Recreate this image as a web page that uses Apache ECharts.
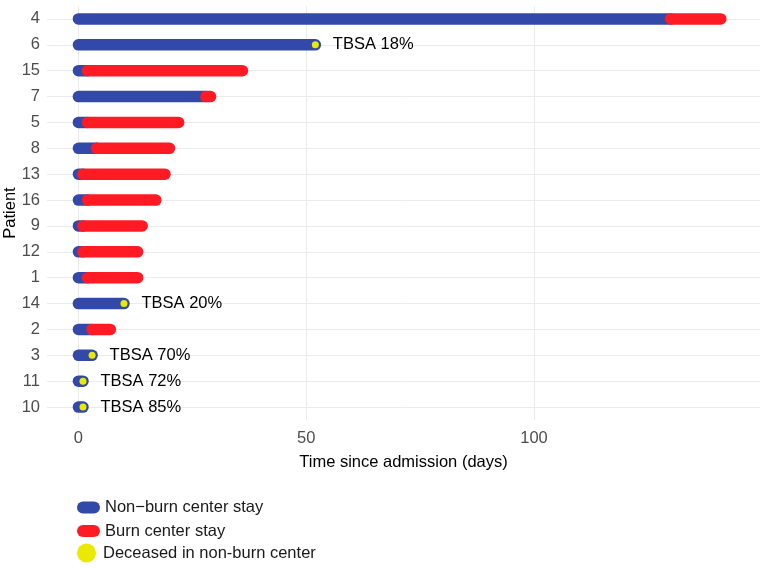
<!DOCTYPE html>
<html>
<head>
<meta charset="utf-8">
<script src="https://cdn.jsdelivr.net/npm/echarts@6/dist/echarts.min.js"></script>
<style>
  html, body { margin: 0; padding: 0; background: #fff; }
  #chart { width: 767px; height: 569px; }
</style>
</head>
<body>
<div id="chart"></div>
<script>
// patients, top to bottom
var patients = ['4', '6', '15', '7', '5', '8', '13', '16', '9', '12', '1', '14', '2', '3', '11', '10'];
// days spent in a non-burn center (from admission)
var nonBurnEnd = [130, 52, 2, 28, 2, 4, 1, 2, 1, 1, 2, 10, 3, 3, 1, 1];
// day of discharge from burn center (null = never transferred)
var burnEnd = [141, null, 36, 29, 22, 20, 19, 17, 14, 13, 13, null, 7, null, null, null];
// deceased in non-burn center: patient, day, TBSA label
var deadPatients = ['6', '14', '3', '11', '10'];
var deadDays = [52, 10, 3, 1, 1];
var deadTbsa = ['TBSA 18%', 'TBSA 20%', 'TBSA 70%', 'TBSA 72%', 'TBSA 85%'];
var xTicks = [0, 50, 100];

var blue = '#3349aa', red = '#ff1a24', yellow = '#eaea00';

var nonBurnData = patients.map(function (p, i) { return [0, nonBurnEnd[i], p]; });
var burnData = [];
patients.forEach(function (p, i) {
  if (burnEnd[i] != null) burnData.push([nonBurnEnd[i], burnEnd[i], p]);
});
var deadData = deadPatients.map(function (p, i) { return [deadDays[i], p, deadTbsa[i]]; });

function segment(params, api) {
  var a = api.coord([api.value(0), api.value(2)]);
  var b = api.coord([api.value(1), api.value(2)]);
  return {
    type: 'line',
    shape: { x1: a[0], y1: a[1], x2: b[0], y2: b[1] },
    style: { stroke: api.visual('color'), lineWidth: 11.5, lineCap: 'round' }
  };
}

var font = "'Liberation Sans', Arial, sans-serif";
var fs = 16.5;
var myChart = echarts.init(document.getElementById('chart'));
var option = {
  animation: false,
  textStyle: { fontFamily: font },
  grid: { left: 47, right: 7, top: 6, bottom: 149, outerBoundsMode: 'none' },
  legend: [
    {
      orient: 'vertical', left: 72, top: 494,
      itemWidth: 23, itemHeight: 12, itemGap: 6.5,
      icon: 'path://M6,0 H17 A6,6 0 0 1 17,12 H6 A6,6 0 0 1 6,0 Z',
      textStyle: { fontSize: fs, color: '#1a1a1a', fontFamily: font },
      data: ['Non\u2212burn center stay', 'Burn center stay']
    },
    {
      orient: 'vertical', left: 72, top: 538.5,
      itemWidth: 23, itemHeight: 19,
      icon: 'circle',
      textStyle: { fontSize: fs, color: '#1a1a1a', fontFamily: font },
      data: ['Deceased in non-burn center']
    }
  ],
  xAxis: {
    type: 'value',
    min: -6.9,
    max: 149.6,
    name: 'Time since admission (days)',
    nameLocation: 'middle',
    nameGap: 34,
    nameTextStyle: { fontSize: fs, color: '#000', fontFamily: font },
    axisLine: { show: false },
    axisTick: { show: false, customValues: xTicks },
    axisLabel: { customValues: xTicks, fontSize: fs, color: '#4d4d4d', margin: 10, fontFamily: font },
    splitLine: { show: true, lineStyle: { color: '#ebebeb', width: 1 } }
  },
  yAxis: {
    type: 'category',
    inverse: true,
    data: patients,
    name: 'Patient',
    nameLocation: 'middle',
    nameGap: 28.5,
    nameMoveOverlap: false,
    nameTextStyle: { fontSize: fs, color: '#000', fontFamily: font },
    axisLine: { show: false },
    axisTick: { show: false, alignWithLabel: true },
    axisLabel: { fontSize: fs, color: '#4d4d4d', margin: 7, fontFamily: font },
    splitLine: { show: true, alignWithLabel: true, lineStyle: { color: '#ebebeb', width: 1 } }
  },
  series: [
    {
      name: 'Non\u2212burn center stay',
      type: 'custom',
      renderItem: segment,
      itemStyle: { color: blue },
      encode: { x: [0, 1], y: 2 },
      data: nonBurnData
    },
    {
      name: 'Burn center stay',
      type: 'custom',
      renderItem: segment,
      itemStyle: { color: red },
      encode: { x: [0, 1], y: 2 },
      data: burnData
    },
    {
      name: 'Deceased in non-burn center',
      type: 'scatter',
      symbolSize: 7,
      itemStyle: { color: yellow, opacity: 1 },
      encode: { x: 0, y: 1 },
      label: {
        show: true,
        position: 'right',
        distance: 14,
        fontSize: fs,
        color: '#000',
        fontFamily: font,
        formatter: function (p) { return p.data[2]; }
      },
      data: deadData
    }
  ]
};
myChart.setOption(option);
</script>
</body>
</html>
